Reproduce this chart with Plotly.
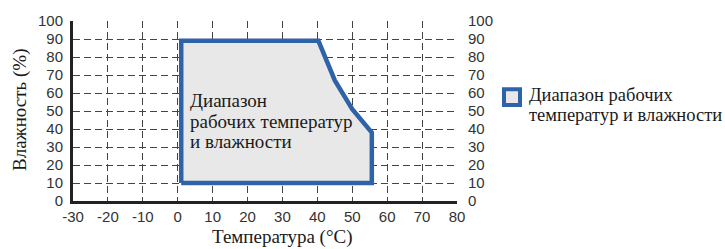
import plotly.graph_objects as go

# Operating range polygon (temperature °C, humidity %)
temp = [1, 1, 40.3, 45, 50, 55.6, 55.6, 1]
hum = [10, 89, 89, 67, 51, 38, 10, 10]

x_ticks = [-30, -20, -10, 0, 10, 20, 30, 40, 50, 60, 70, 80]
y_ticks = [0, 10, 20, 30, 40, 50, 60, 70, 80, 90, 100]

label = "Диапазон рабочих температур и влажности"
inner_lines = ["Диапазон", "рабочих температур", "и влажности"]
legend_lines = ["Диапазон рабочих", "температур и влажности"]
x_title = "Температура (°C)"
y_title = "Влажность (%)"

BLUE = "#2e63a7"
FILL = "#e8e8e8"
GRID = "#444444"
TEXT = "#1a1a1a"
SERIF = "Liberation Serif, Times New Roman, serif"
SANS = "Liberation Sans, Arial, sans-serif"

L, R, T, B = 73, 457, 19, 201
W, H = 725, 249
PW, PH = R - L, B - T


def px(xpix):
    return (xpix - L) / PW


def py(ypix):
    return (B - ypix) / PH


fig = go.Figure()
fig.add_trace(go.Scatter(
    x=temp, y=hum, mode="lines", fill="toself", fillcolor=FILL,
    line=dict(color=BLUE, width=4.5), name=label, showlegend=False,
    hoverinfo="skip"))
fig.add_trace(go.Scatter(x=[None], y=[None], yaxis="y2", showlegend=False))

tickfont = dict(family=SANS, size=15, color="#333333")
fig.update_layout(
    width=W, height=H,
    margin=dict(l=L, r=W - R, t=T, b=H - B, pad=0),
    paper_bgcolor="white", plot_bgcolor="white",
    xaxis=dict(range=[-30, 80], tickvals=x_ticks, ticktext=[str(v) for v in x_ticks],
               showgrid=True, gridcolor=GRID, griddash="7px,4px", gridwidth=1,
               zeroline=False, showline=True, linecolor="#222222", linewidth=3,
               ticks="", tickfont=tickfont),
    yaxis=dict(range=[0, 100], tickvals=y_ticks, ticktext=[str(v) for v in y_ticks],
               showgrid=True, gridcolor=GRID, griddash="7px,4px", gridwidth=1,
               zeroline=False, showline=True, linecolor="#222222", linewidth=3,
               ticks="outside", ticklen=4, tickcolor="rgba(0,0,0,0)",
               tickfont=tickfont),
    yaxis2=dict(range=[0, 100], tickvals=y_ticks, ticktext=[str(v) for v in y_ticks],
                overlaying="y", side="right", showgrid=False, zeroline=False,
                showline=False, ticks="outside", ticklen=7, tickcolor="rgba(0,0,0,0)",
                tickfont=tickfont),
    showlegend=False,
)

# inner label, one annotation per line for tight leading
for line, yc in zip(inner_lines, [99, 121, 141]):
    fig.add_annotation(text=line, x=px(189), y=py(yc), xref="paper", yref="paper",
                       xanchor="left", yanchor="middle", showarrow=False,
                       borderpad=0, font=dict(family=SERIF, size=19, color=TEXT))

fig.add_annotation(text=x_title, x=px(282), y=py(237), xref="paper", yref="paper",
                   xanchor="center", yanchor="middle", showarrow=False, borderpad=0,
                   font=dict(family=SERIF, size=19, color=TEXT))
fig.add_annotation(text=y_title, x=px(20), y=py(109), xref="paper", yref="paper",
                   xanchor="center", yanchor="middle", textangle=-90, showarrow=False,
                   borderpad=0, font=dict(family=SERIF, size=19, color=TEXT))

# legend item
fig.add_shape(type="rect", xref="paper", yref="paper",
              x0=px(504), x1=px(520), y0=py(104), y1=py(88),
              line=dict(color=BLUE, width=4), fillcolor=FILL)
for line, yc in zip(legend_lines, [94, 114]):
    fig.add_annotation(text=line, x=px(528), y=py(yc), xref="paper", yref="paper",
                       xanchor="left", yanchor="middle", showarrow=False, borderpad=0,
                       font=dict(family=SERIF, size=18.5, color=TEXT))

fig.write_html("out.html", config={"displayModeBar": False},
               post_script="document.body.style.margin='0';document.body.style.overflow='hidden';")
